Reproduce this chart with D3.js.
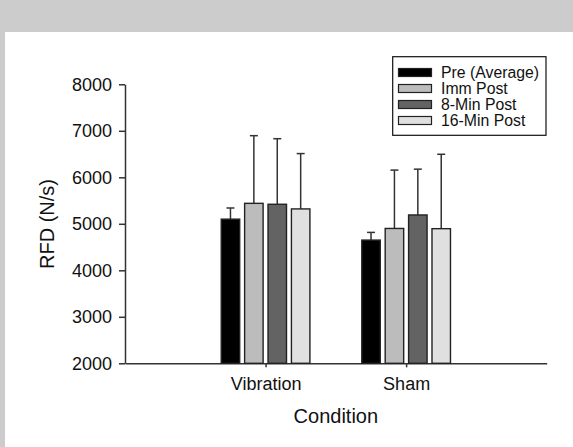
<!DOCTYPE html>
<html>
<head>
<meta charset="utf-8">
<script src="https://cdn.jsdelivr.net/npm/d3@7"></script>
<style>
  html, body { margin: 0; padding: 0; background: #fff; }
  svg { display: block; font-family: "Liberation Sans", Arial, sans-serif; }
</style>
</head>
<body>
<script>
const categories = ["Vibration", "Sham"];
const seriesNames = ["Pre (Average)", "Imm Post", "8-Min Post", "16-Min Post"];
const seriesColors = ["#000000", "#bcbcbc", "#636363", "#e0e0e0"];
// mean values per series, by category [Vibration, Sham]
const preAvg   = [5100, 4650];
const immPost  = [5440, 4900];
const min8Post = [5420, 5190];
const min16Post= [5320, 4895];
// standard deviations (upper error bars)
const preAvgSD   = [240, 165];
const immPostSD  = [1455, 1255];
const min8PostSD = [1410, 985];
const min16PostSD= [1190, 1600];
const yTicks = [2000, 3000, 4000, 5000, 6000, 7000, 8000];

const seriesVals = [preAvg, immPost, min8Post, min16Post];
const seriesSD = [preAvgSD, immPostSD, min8PostSD, min16PostSD];

const W = 573, H = 447;
const svg = d3.select("body").append("svg").attr("width", W).attr("height", H);

svg.append("rect").attr("width", W).attr("height", H).attr("fill", "#cccccc");
svg.append("rect").attr("x", 5).attr("y", 32).attr("width", W - 5).attr("height", H - 32).attr("fill", "#ffffff");

const x = d3.scaleLinear().domain([0, 3]).range([125, 546.7]);
const y = d3.scaleLinear().domain([2000, 8000]).range([363.3, 84.3]);
const sub = d3.scaleBand().domain(seriesNames).range([-46.8, 46.8]).paddingInner(0.21).paddingOuter(0.105);

const axisColor = "#333";
const textColor = "#111";

// y axis
const gy = svg.append("g").attr("transform", "translate(125,0)")
  .call(d3.axisLeft(y).tickValues(yTicks).tickSize(6).tickSizeOuter(0).tickPadding(7).tickFormat(d3.format("d")));
gy.selectAll("text").attr("font-size", 18).attr("fill", textColor).attr("font-family", "Liberation Sans, Arial, sans-serif");
gy.selectAll("line,path").attr("stroke", axisColor).attr("stroke-width", 1.5);

// x axis
const gx = svg.append("g").attr("transform", "translate(0,363.3)")
  .call(d3.axisBottom(x).tickValues([1, 2]).tickSize(4).tickSizeOuter(0).tickPadding(10).tickFormat(d => categories[d - 1]));
gx.selectAll("text").attr("font-size", 18).attr("fill", textColor).attr("font-family", "Liberation Sans, Arial, sans-serif");
gx.selectAll("line,path").attr("stroke", axisColor).attr("stroke-width", 1.5);

// bars
const data = [];
categories.forEach((c, ci) => {
  seriesNames.forEach((s, si) => {
    data.push({ ci, si, s, v: seriesVals[si][ci], sd: seriesSD[si][ci] });
  });
});

const gBars = svg.append("g");
data.forEach(d => {
  const cx = x(d.ci + 1) + sub(d.s) + sub.bandwidth() / 2;
  gBars.append("line").attr("x1", cx).attr("x2", cx).attr("y1", y(d.v)).attr("y2", y(d.v + d.sd))
    .attr("stroke", axisColor).attr("stroke-width", 1.5);
  gBars.append("line").attr("x1", cx - 4).attr("x2", cx + 4).attr("y1", y(d.v + d.sd)).attr("y2", y(d.v + d.sd))
    .attr("stroke", axisColor).attr("stroke-width", 1.5);
});
gBars.selectAll("rect").data(data).join("rect")
  .attr("x", d => x(d.ci + 1) + sub(d.s))
  .attr("width", sub.bandwidth())
  .attr("y", d => y(d.v))
  .attr("height", d => y(2000) - y(d.v))
  .attr("fill", d => seriesColors[d.si])
  .attr("stroke", "#222").attr("stroke-width", 1.4);

// axis titles
svg.append("text").attr("x", x(1.5)).attr("y", 423).attr("text-anchor", "middle")
  .attr("font-size", 20).attr("fill", textColor).text("Condition");
svg.append("text").attr("transform", "translate(54,224) rotate(-90)").attr("text-anchor", "middle")
  .attr("font-size", 20).attr("fill", textColor).text("RFD (N/s)");

// legend
const lg = svg.append("g");
lg.append("rect").attr("x", 392.7).attr("y", 56.7).attr("width", 153.3).attr("height", 78.6)
  .attr("fill", "#fff").attr("stroke", "#111").attr("stroke-width", 1.2);
const rowY = d3.scalePoint().domain(seriesNames).range([72.5, 120.5]);
seriesNames.forEach((s, i) => {
  lg.append("rect").attr("x", 398.5).attr("y", rowY(s) - 4).attr("width", 33).attr("height", 8)
    .attr("fill", seriesColors[i]).attr("stroke", "#222").attr("stroke-width", 1.2);
  lg.append("text").attr("x", 441).attr("y", rowY(s) + 5.5).attr("font-size", 15.8).attr("fill", textColor).text(s);
});
</script>
</body>
</html>
